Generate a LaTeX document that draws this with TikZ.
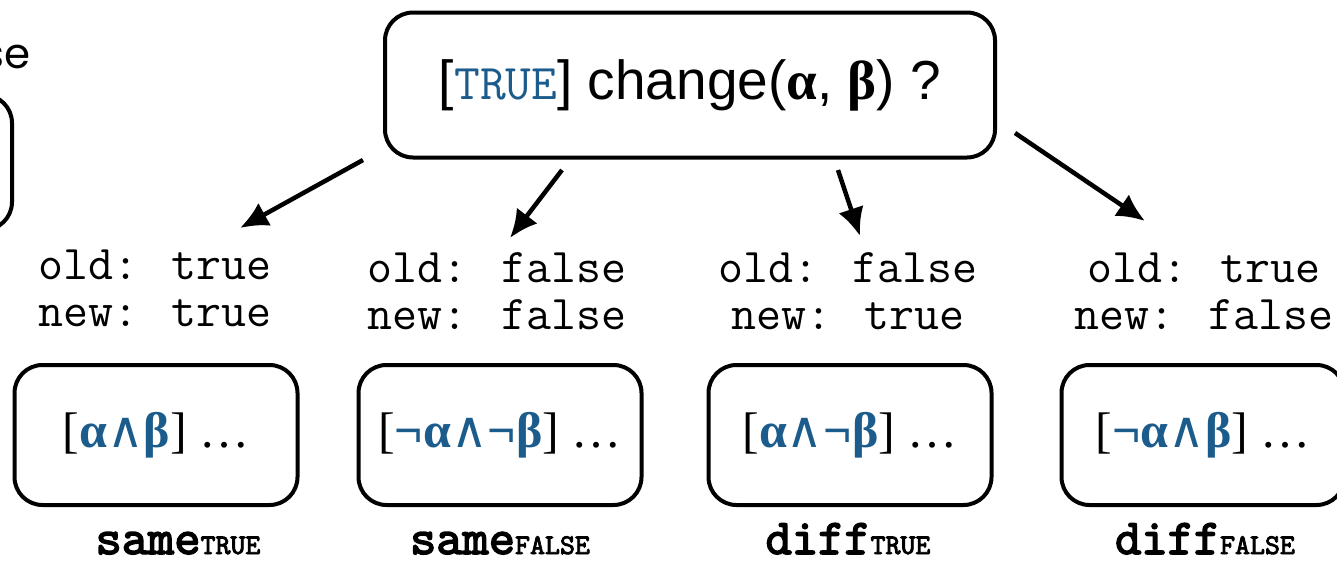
\documentclass[tikz,border=0pt]{standalone}
\usepackage{fontspec}
\setmainfont{Liberation Sans}
\newfontfamily\tms{Liberation Serif}
\newfontfamily\djv{DejaVu Serif}
\newfontfamily\geo{Poppins}
\newfontfamily\ttbold{lmmono10-regular.otf}[FakeBold=3]
\usetikzlibrary{arrows.meta}
\definecolor{ablue}{RGB}{28,92,140}

\tikzset{
  rbox/.style={draw, line width=4pt, rounded corners=28pt, minimum width=283pt, minimum height=140pt, inner sep=0pt},
  cond/.style={font=\ttfamily\fontsize{48.5}{47}\selectfont, align=center, inner sep=0pt},
  lbl/.style={font=\ttbold\fontsize{50}{50}\selectfont, inner sep=0pt, anchor=base},
  arr/.style={line width=4.5pt, -{Latex[length=28pt,width=26pt]}}
}
\newcommand{\sub}[1]{{\fontsize{28.5}{30}\selectfont #1}}
\newcommand{\ab}[1]{{\color{ablue}\bfseries #1}}

\begin{document}
\begin{tikzpicture}[x=1pt,y=-1pt]
  \useasboundingbox (0,0) rectangle (1337,562);
  \clip (0,0) rectangle (1337,562);

  % cut-off piece on the left
  \node[anchor=base east, font=\geo\fontsize{42}{48}\selectfont, inner sep=0pt] (lefttxt) at (31,68) {false};
  \draw[line width=4pt, rounded corners=28pt] (-250,95) rectangle (12,230);

  % question
  \node[rbox, minimum width=610pt, minimum height=145pt, font=\fontsize{55}{58}\selectfont] (top) at (690,85)
    {[{\ttfamily\fontsize{50}{50}\selectfont\color{ablue}TRUE}] change({\tms\bfseries α}, {\tms\bfseries β}) ?};

  % old / new values
  \node[cond] (c1) at (155,288) {old: true\\new: true};
  \node[cond] (c2) at (497,291) {old: false\\new: false};
  \node[cond] (c3) at (848,291) {old: false\\new: true};
  \node[cond] (c4) at (1204,291) {old: true\\new: false};

  % cases
  \node[rbox, font=\tms\fontsize{50}{56}\selectfont] (b1) at (156,435) {[\ab{α{\djv\mdseries ∧}β}] …};
  \node[rbox, font=\tms\fontsize{50}{56}\selectfont] (b2) at (500,435) {[\ab{¬α{\djv\mdseries ∧}¬β}] …};
  \node[rbox, font=\tms\fontsize{50}{56}\selectfont] (b3) at (850,435) {[\ab{α{\djv\mdseries ∧}¬β}] …};
  \node[rbox, font=\tms\fontsize{50}{56}\selectfont] (b4) at (1203,435) {[\ab{¬α{\djv\mdseries ∧}β}] …};

  \node[lbl] (l1) at (178,554) {same\sub{TRUE}};
  \node[lbl] (l2) at (500,554) {same\sub{FALSE}};
  \node[lbl] (l3) at (848,554) {diff\sub{TRUE}};
  \node[lbl] (l4) at (1205,554) {diff\sub{FALSE}};

  % arrows
  \coordinate (s1) at (363,160);
  \coordinate (e1) at (240,228);
  \coordinate (s2) at (562,170);
  \coordinate (e2) at (510,238);
  \coordinate (s3) at (838,170);
  \coordinate (e3) at (860,236);
  \coordinate (s4) at (1015,133);
  \coordinate (e4) at (1145,221);
  \draw[arr] (s1) -- (e1);
  \draw[arr] (s2) -- (e2);
  \draw[arr] (s3) -- (e3);
  \draw[arr] (s4) -- (e4);
\end{tikzpicture}
\end{document}
